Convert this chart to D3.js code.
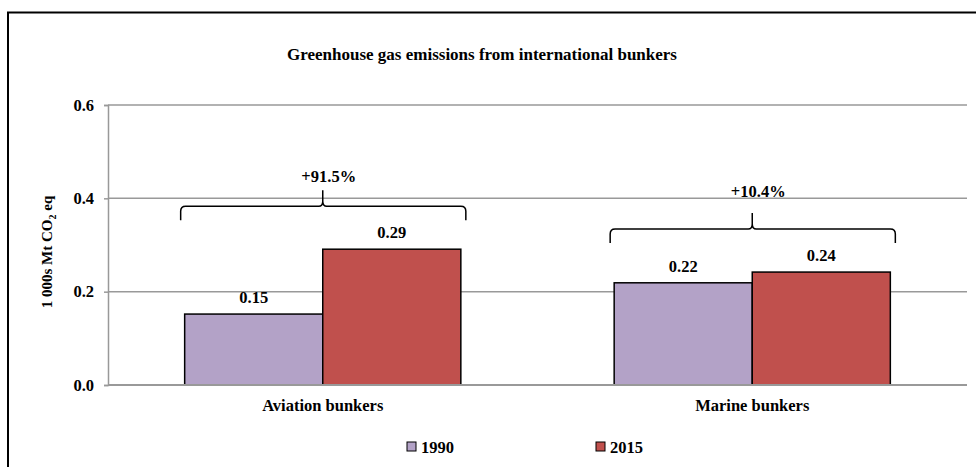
<!DOCTYPE html>
<html>
<head>
<meta charset="utf-8">
<script src="https://cdn.jsdelivr.net/npm/d3@7/dist/d3.min.js"></script>
<style>
  html, body { margin: 0; padding: 0; background: #fff; }
  svg { display: block; }
  svg text { font-family: "Liberation Serif", "Times New Roman", "DejaVu Serif", serif !important; font-weight: bold; fill: #000; }
</style>
</head>
<body>
<svg id="chart" width="976" height="467"></svg>
<script>
const title = "Greenhouse gas emissions from international bunkers";
const categories = ["Aviation bunkers", "Marine bunkers"];
const seriesNames = ["1990", "2015"];
const values1990 = [0.152, 0.219];
const values2015 = [0.291, 0.242];
const valueLabels1990 = ["0.15", "0.22"];
const valueLabels2015 = ["0.29", "0.24"];
const changeLabels = ["+91.5%", "+10.4%"];
const yTicks = [0.0, 0.2, 0.4, 0.6];
const colors = ["#b3a2c7", "#c0504d"];

const svg = d3.select("#chart");
const W = 976, H = 467;
const plot = { left: 108, right: 967, top: 105, bottom: 385 };

// outer frame
svg.append("path")
  .attr("d", `M8,${H + 5} L8,12.5 L${W + 5},12.5`)
  .attr("fill", "none").attr("stroke", "#000").attr("stroke-width", 2);

svg.append("text").attr("x", 482).attr("y", 60).attr("text-anchor", "middle")
  .style("font-size", "17px").text(title);

const y = d3.scaleLinear().domain([0, 0.6]).range([plot.bottom, plot.top]);
const x0 = d3.scaleBand().domain(categories).range([plot.left, plot.right]).paddingInner(0.357).paddingOuter(0.1785);
const x1 = d3.scaleBand().domain(seriesNames).range([0, x0.bandwidth()]);

// gridlines
svg.append("g").selectAll("line").data(yTicks.filter(d => d > 0)).join("line")
  .attr("x1", plot.left).attr("x2", plot.right)
  .attr("y1", d => y(d)).attr("y2", d => y(d))
  .attr("stroke", "#999").attr("stroke-width", 1.5);

// y axis
const yAxis = d3.axisLeft(y).tickValues(yTicks).tickFormat(d3.format(".1f")).tickSize(4).tickPadding(10);
const gy = svg.append("g").attr("transform", `translate(${plot.left},0)`).call(yAxis);
gy.attr("font-family", null).attr("font-size", null);
gy.select(".domain").attr("stroke", "#999").attr("stroke-width", 1.5);
gy.selectAll(".tick line").attr("stroke", "#999").attr("stroke-width", 1.5);
gy.selectAll(".tick text").style("font-size", "16.5px");

svg.append("text")
  .attr("transform", `translate(52,252) rotate(-90)`)
  .attr("text-anchor", "middle").style("font-size", "15px")
  .call(t => {
    t.append("tspan").text("1 000s Mt CO");
    t.append("tspan").attr("dy", 4).style("font-size", "10px").text("2");
    t.append("tspan").attr("dy", -4).text(" eq");
  });

// bars
const series = [values1990, values2015];
const labels = [valueLabels1990, valueLabels2015];
const groups = svg.append("g").selectAll("g").data(categories).join("g")
  .attr("transform", d => `translate(${x0(d)},0)`);

groups.each(function (cat, ci) {
  const g = d3.select(this);
  seriesNames.forEach((s, si) => {
    const v = series[si][ci];
    g.append("rect")
      .attr("x", x1(s)).attr("y", y(v))
      .attr("width", x1.bandwidth()).attr("height", y(0) - y(v))
      .attr("fill", colors[si]).attr("stroke", "#000").attr("stroke-width", 1.5);
    g.append("text")
      .attr("x", x1(s) + x1.bandwidth() / 2).attr("y", y(v) - 11)
      .attr("text-anchor", "middle").style("font-size", "16.5px")
      .text(labels[si][ci]);
  });
});

// x axis line
svg.append("line").attr("x1", plot.left).attr("x2", plot.right)
  .attr("y1", y(0)).attr("y2", y(0)).attr("stroke", "#999").attr("stroke-width", 2);

// category labels
svg.append("g").selectAll("text").data(categories).join("text")
  .attr("x", d => x0(d) + x0.bandwidth() / 2).attr("y", 411)
  .attr("text-anchor", "middle").style("font-size", "16.5px").text(d => d);

// braces
categories.forEach((cat, ci) => {
  const xa = x0(cat) - 4, xb = x0(cat) + x0.bandwidth() + 5;
  const xm = x0(cat) + x0.bandwidth() / 2;
  const top = y(Math.max(values1990[ci], values2015[ci]));
  const hy = top - 43, ey = hy + 14, cy = hy - 16, r = 5;
  const d = `M${xa},${ey} L${xa},${hy + r} Q${xa},${hy} ${xa + r},${hy} ` +
    `L${xm - 4},${hy} Q${xm},${hy} ${xm},${hy - 5} L${xm},${cy} ` +
    `M${xm},${hy - 5} Q${xm},${hy} ${xm + 4},${hy} ` +
    `L${xb - r},${hy} Q${xb},${hy} ${xb},${hy + r} L${xb},${ey}`;
  svg.append("path").attr("d", d).attr("fill", "none").attr("stroke", "#000").attr("stroke-width", 1.5);
  svg.append("text").attr("x", xm + 6).attr("y", cy - 8 - ci * 8)
    .attr("text-anchor", "middle").style("font-size", "16.5px").text(changeLabels[ci]);
});

// legend
const legendX = [407, 596];
seriesNames.forEach((s, i) => {
  svg.append("rect").attr("x", legendX[i]).attr("y", 442).attr("width", 9).attr("height", 9)
    .attr("fill", colors[i]).attr("stroke", "#000").attr("stroke-width", 1);
  svg.append("text").attr("x", legendX[i] + 14).attr("y", 453).style("font-size", "16.5px").text(s);
});
</script>
</body>
</html>
